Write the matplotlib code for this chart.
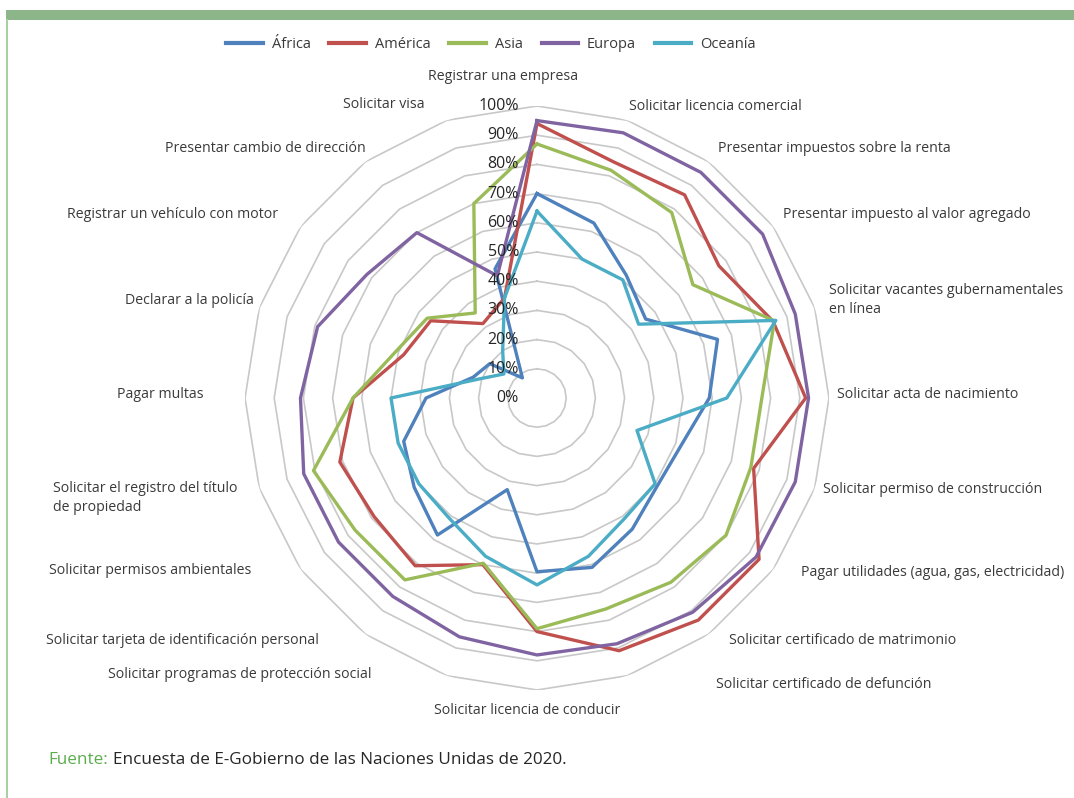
import numpy as np
import matplotlib.pyplot as plt
from matplotlib.lines import Line2D
from matplotlib.patches import Rectangle

plt.rcParams['font.family'] = ['Open Sans', 'DejaVu Sans']

# categories, clockwise from the top
categories = [
    'Registrar una empresa',
    'Solicitar licencia comercial',
    'Presentar impuestos sobre la renta',
    'Presentar impuesto al valor agregado',
    'Solicitar vacantes gubernamentales\nen línea',
    'Solicitar acta de nacimiento',
    'Solicitar permiso de construcción',
    'Pagar utilidades (agua, gas, electricidad)',
    'Solicitar certificado de matrimonio',
    'Solicitar certificado de defunción',
    'Solicitar licencia de conducir',
    'Solicitar programas de protección social',
    'Solicitar tarjeta de identificación personal',
    'Solicitar permisos ambientales',
    'Solicitar el registro del título\nde propiedad',
    'Pagar multas',
    'Declarar a la policía',
    'Registrar un vehículo con motor',
    'Presentar cambio de dirección',
    'Solicitar visa',
]

# share of countries (%) per region
africa = [70, 63, 52, 46, 65, 59, 52, 51, 55.5, 61, 59.5, 33, 58, 52, 48, 38, 23, 20, 8.5, 46.5]
america = [94, 85, 86, 77, 85, 92, 78, 94, 94, 91, 80, 60, 71, 69, 71, 63, 48, 45, 31.5, 36]
asia = [87, 82, 78.5, 66, 85.5, 77, 77, 80, 78, 76, 79, 59.5, 77, 77, 80.5, 63, 51, 46.5, 36, 70]
europa = [95, 95.5, 95.5, 95.5, 93, 93, 93, 92.7, 90.7, 88.5, 88, 86, 84, 84, 84, 81, 79, 72, 70, 44]
oceania = [64, 50, 50, 43, 86, 65, 36, 50, 51, 57, 64, 57, 51, 50, 50, 50, 21, 14, 20, 36]

series_names = ['África', 'América', 'Asia', 'Europa', 'Oceanía']
series_vals = [africa, america, asia, europa, oceania]
series_colors = ['#4F81BD', '#C0504D', '#9BBB59', '#8064A2', '#4BACC6']

ring_levels = [10, 20, 30, 40, 50, 60, 70, 80, 90, 100]
ring_labels = ['0%', '10%', '20%', '30%', '40%', '50%', '60%', '70%', '80%', '90%', '100%']

# label anchors in pixels (x, y from top, alignment)
label_anchor = [
    (503, 76, 'center'), (629, 106, 'left'), (718, 149, 'left'), (783, 214, 'left'),
    (829, 300, 'left'), (837, 395, 'left'), (823, 489, 'left'), (801, 573, 'left'),
    (729, 640, 'left'), (716, 684, 'left'), (527, 711, 'center'), (371, 674, 'right'),
    (319, 640, 'right'), (251, 570, 'right'), (53, 498, 'left'), (204, 395, 'right'),
    (254, 300, 'right'), (278, 215, 'right'), (366, 149, 'right'), (425, 104, 'right'),
]

W, H = 1074, 798
fig = plt.figure(figsize=(W / 100, H / 100), dpi=100)
fig.patch.set_facecolor('white')

cx, cy, R = 537, 398, 292
ax = fig.add_axes([(cx - R) / W, (H - cy - R) / H, 2 * R / W, 2 * R / H], projection='polar')
ax.set_theta_zero_location('N')
ax.set_theta_direction(-1)
ax.set_ylim(0, 100)
ax.set_xticks([])
ax.set_yticks([])
ax.grid(False)
ax.spines['polar'].set_visible(False)
ax.patch.set_alpha(0)

n = len(categories)
theta = np.linspace(0, 2 * np.pi, n, endpoint=False)
theta_c = np.append(theta, theta[0])

# polygon grid
for lvl in ring_levels:
    ax.plot(theta_c, [lvl] * (n + 1), color='#c8c8c8', lw=1.2, zorder=1)

for name, vals, col in zip(series_names, series_vals, series_colors):
    ax.plot(theta_c, vals + vals[:1], color=col, lw=2.4, zorder=3, label=name)

# radial labels
for i, lab in enumerate(ring_labels):
    ax.annotate(lab, xy=(0, i * 10), xytext=(-13, 0), textcoords='offset points',
                ha='right', va='center', fontsize=11.5, color='#262626', zorder=4)

for lab, (x, y, ha) in zip(categories, label_anchor):
    fig.text(x / W, 1 - y / H, lab, ha=ha, va='center', fontsize=10.2,
             color='#3a3a3a', linespacing=1.35, multialignment='left')

handles = [Line2D([0], [0], color=c, lw=3) for c in series_colors]
fig.legend(handles, series_names, loc='center', bbox_to_anchor=(491 / W, 1 - 45 / H),
           ncol=5, frameon=False, fontsize=10.5, handlelength=2.5, handletextpad=0.6,
           columnspacing=1.3, labelcolor='#3a3a3a')

# frame decoration
fig.patches.append(Rectangle((6 / W, 1 - 20 / H), 1, 10 / H, transform=fig.transFigure,
                             facecolor='#8cb68a', edgecolor='none'))
fig.add_artist(Line2D([6.5 / W, 6.5 / W], [0, 1 - 20 / H], transform=fig.transFigure,
                      color='#a9cfa5', lw=1.5))

t1 = fig.text(48 / W, 1 - 760 / H, 'Fuente:', ha='left', va='center', fontsize=12.3, color='#5cad4e')
fig.canvas.draw()
bb = t1.get_window_extent()
fig.text((bb.x1 + 5) / W, 1 - 760 / H, 'Encuesta de E-Gobierno de las Naciones Unidas de 2020.',
         ha='left', va='center', fontsize=12.3, color='#262626')

fig.savefig('out.png', dpi=100, facecolor='white')
